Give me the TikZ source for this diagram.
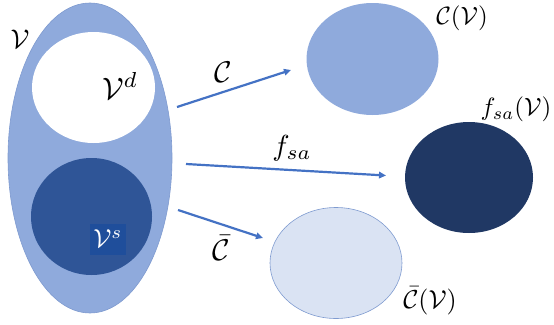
\documentclass[tikz,border=0pt]{standalone}
\usepackage{graphicx}
\usetikzlibrary{shapes.geometric,arrows.meta}
\definecolor{midblue}{HTML}{8FAADC}
\definecolor{midedge}{HTML}{7F9BD0}
\definecolor{darkset}{HTML}{2F5597}
\definecolor{navy}{HTML}{203864}
\definecolor{paleblue}{HTML}{DAE3F3}
\definecolor{arrowblue}{HTML}{4472C4}
\definecolor{tagblue}{HTML}{1F4E9B}
\newcommand\sizedlab[2]{\scalebox{#1}{$#2$}}
\tikzset{
  blob/.style={ellipse, inner sep=0pt, outer sep=0pt},
  plainlab/.style={inner sep=0pt},
  maparrow/.style={draw=arrowblue, line width=2.2pt, -{Triangle[length=7pt,width=6.5pt]}},
}
\begin{document}
\begin{tikzpicture}[x=1pt,y=-1pt]
\useasboundingbox (0,0) rectangle (554,324);
% source set
\node[blob, fill=midblue, draw=midedge, line width=0.6pt, minimum width=164pt, minimum height=310pt] (V) at (90,158) {};
\node[blob, fill=white, minimum width=123pt, minimum height=111pt] (Vd) at (93.5,87.5) {};
\node[blob, fill=darkset, minimum width=121pt, minimum height=117pt] (Vs) at (91.5,216.5) {};
\node[plainlab] (Vlab) at (20,39) {\sizedlab{2.7}{\mathcal{V}}};
\node[plainlab] (Vdlab) at (120,86) {\sizedlab{3.1}{\mathcal{V}^d}};
\node[fill=tagblue, text=white, minimum width=36pt, minimum height=31pt, inner sep=0pt] (Vslab) at (108,239) {\sizedlab{2.6}{\mathcal{V}^s}};
% images
\node[blob, fill=midblue, minimum width=132pt, minimum height=112pt] (CV) at (372.5,59) {};
\node[blob, fill=navy, minimum width=128pt, minimum height=111pt] (FV) at (469,177.5) {};
\node[blob, fill=paleblue, draw=midedge, line width=0.6pt, minimum width=132pt, minimum height=111pt] (CbV) at (336,263) {};
\node[plainlab] (CVlab) at (462,18) {\sizedlab{2.5}{\mathcal{C}(\mathcal{V})}};
\node[plainlab] (FVlab) at (516,109) {\sizedlab{2.5}{f_{sa}(\mathcal{V})}};
\node[plainlab] (CbVlab) at (430,301) {\sizedlab{2.6}{\bar{\mathcal{C}}(\mathcal{V})}};
% arrows
\coordinate (a1s) at (177,107);
\coordinate (a1e) at (291,70);
\coordinate (a2s) at (186,164);
\coordinate (a2e) at (386,175.5);
\coordinate (a3s) at (178,210);
\coordinate (a3e) at (263,238);
\draw[maparrow] (a1s) -- (a1e);
\draw[maparrow] (a2s) -- (a2e);
\draw[maparrow] (a3s) -- (a3e);
\node[plainlab] (Clab) at (223,72) {\sizedlab{3.0}{\mathcal{C}}};
\node[plainlab] (Flab) at (292,148) {\sizedlab{2.9}{f_{sa}}};
\node[plainlab] (Cblab) at (221,248) {\sizedlab{3.0}{\bar{\mathcal{C}}}};
\end{tikzpicture}
\end{document}
